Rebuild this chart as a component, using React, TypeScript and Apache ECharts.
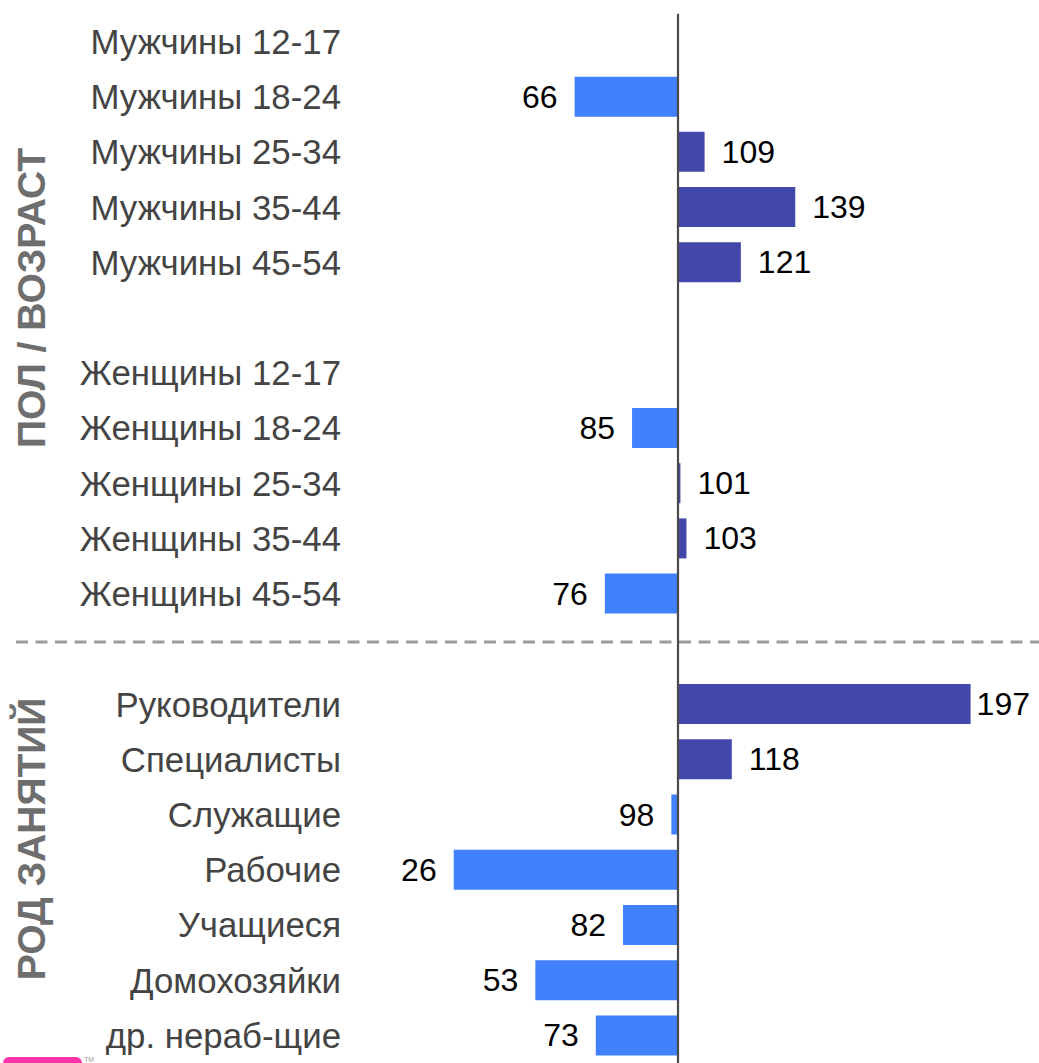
import React, { useEffect, useRef } from "react";
import * as echarts from "echarts";

const categories = [
  "Мужчины 12-17", "Мужчины 18-24", "Мужчины 25-34", "Мужчины 35-44", "Мужчины 45-54",
  "",
  "Женщины 12-17", "Женщины 18-24", "Женщины 25-34", "Женщины 35-44", "Женщины 45-54",
  " ",
  "Руководители", "Специалисты", "Служащие", "Рабочие", "Учащиеся", "Домохозяйки", "др. нераб-щие",
];
const values: (number | null)[] = [
  null, 66, 109, 139, 121,
  null,
  null, 85, 101, 103, 76,
  null,
  197, 118, 98, 26, 82, 53, 73,
];
const baseline = 100;
const groupTitles = ["ПОЛ / ВОЗРАСТ", "РОД ЗАНЯТИЙ"];

const LIGHT = "#4181FE";
const DARK = "#4347A9";
const FONT = "'Liberation Sans', Arial, sans-serif";

export default function App() {
  const ref = useRef<HTMLDivElement>(null);
  useEffect(() => {
    if (!ref.current) return;
    const chart = echarts.init(ref.current, null, { renderer: "svg" });
    const data = values.map((v) =>
      v == null
        ? null
        : {
            value: v - baseline,
            itemStyle: { color: v >= baseline ? DARK : LIGHT },
            label: {
              position: v >= baseline ? "right" : "left",
              distance: v - baseline > 90 ? 6 : 17,
            },
          }
    );
    chart.setOption({
      animation: false,
      grid: { left: 360, top: 13.8, width: 665, height: 55.47 * 19 },
      xAxis: {
        type: "value",
        min: -105,
        max: 115,
        show: false,
        splitLine: { show: false },
      },
      yAxis: {
        type: "category",
        data: categories,
        inverse: true,
        axisLine: { show: false },
        axisTick: { show: false },
        splitLine: { show: false },
        axisLabel: {
          margin: 19,
          fontSize: 34.8,
          color: "#444444",
          fontFamily: FONT,
        },
      },
      series: [
        {
          type: "bar",
          data,
          barWidth: 40,
          label: {
            show: true,
            fontSize: 32,
            color: "#000",
            fontFamily: FONT,
            formatter: (p: any) => String(values[p.dataIndex]),
          },
          markLine: {
            silent: true,
            symbol: ["none", "none"],
            label: { show: false },
            lineStyle: { color: "#4a4a4a", width: 2.2, type: "solid" },
            data: [{ xAxis: 0 }],
          },
        },
      ],
      graphic: [
        {
          type: "line",
          shape: { x1: 16, y1: 642, x2: 1039, y2: 642 },
          style: { stroke: "#9a9a9a", lineWidth: 3, lineDash: [12, 7.5] },
          z: 0,
        },
        {
          type: "text",
          x: 31,
          y: 298,
          rotation: Math.PI / 2,
          style: {
            text: groupTitles[0],
            align: "center",
            verticalAlign: "middle",
            fontSize: 39,
            fontWeight: "bold",
            fill: "#6e6e6e",
            fontFamily: FONT,
          },
        },
        {
          type: "text",
          x: 31,
          y: 839,
          rotation: Math.PI / 2,
          style: {
            text: groupTitles[1],
            align: "center",
            verticalAlign: "middle",
            fontSize: 39,
            fontWeight: "bold",
            fill: "#6e6e6e",
            fontFamily: FONT,
          },
        },
        {
          type: "rect",
          shape: { x: 3, y: 1057, width: 79, height: 20, r: 6 },
          style: { fill: "#FF33AA" },
        },
        {
          type: "text",
          x: 84,
          y: 1056,
          style: { text: "TM", fontSize: 7, fill: "#999", fontFamily: FONT },
        },
      ],
    });
    return () => chart.dispose();
  }, []);
  return (
    <div
      ref={ref}
      style={{ position: "fixed", left: 0, top: 0, width: 1039, height: 1063, background: "#fff" }}
    />
  );
}
